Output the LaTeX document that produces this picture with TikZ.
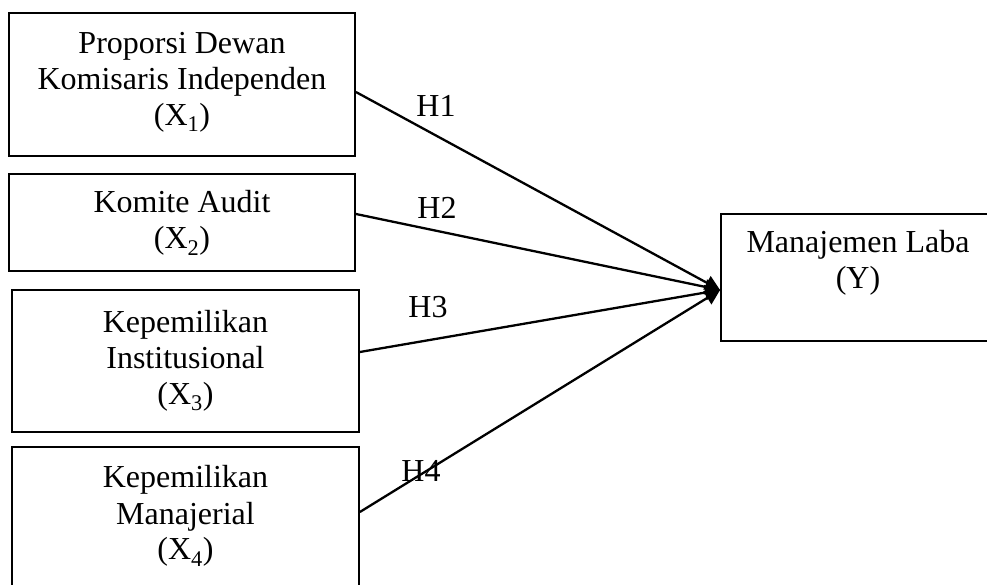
\documentclass[tikz,border=0pt]{standalone}
\usepackage{fontspec}
\setmainfont{Liberation Serif}
\usetikzlibrary{calc,arrows.meta,positioning}

\begin{document}
\begin{tikzpicture}[x=1pt,y=1pt,
  varbox/.style={draw,line width=1.8pt,inner sep=0pt},
  boxtext/.style={align=center,inner sep=0pt,font=\fontsize{32}{36}\selectfont},
  hlabel/.style={inner sep=0pt,font=\fontsize{32}{36}\selectfont},
  hyparrow/.style={line width=2.3pt,-{Triangle[length=15pt,width=15pt]}}]
  \useasboundingbox (0,0) rectangle (987,585);

  % independent variables
  \node[varbox,minimum width=346pt,minimum height=143pt] (x1) at (182,500.5) {};
  \node[varbox,minimum width=346pt,minimum height=97pt] (x2) at (182,362.5) {};
  \node[varbox,minimum width=347pt,minimum height=142pt] (x3) at (185.5,224) {};
  \node[varbox,minimum width=347pt,minimum height=143pt] (x4) at (185.5,66.5) {};
  % dependent variable
  \node[varbox,minimum width=274pt,minimum height=127pt] (y) at (858,307.5) {};

  \node[boxtext,below=20pt of x1.north] (x1txt) {Proporsi Dewan\\Komisaris Independen\\(X\textsubscript{1})};
  \node[boxtext,below=17.5pt of x2.north] (x2txt) {Komite Audit\\(X\textsubscript{2})};
  \node[boxtext,below=21pt of x3.north] (x3txt) {Kepemilikan\\Institusional\\(X\textsubscript{3})};
  \node[boxtext,below=19.5pt of x4.north] (x4txt) {Kepemilikan\\Manajerial\\(X\textsubscript{4})};
  \node[boxtext,below=17.5pt of y.north] (ytxt) {Manajemen Laba\\(Y)};

  \coordinate (tip) at ($(y.west)+(0,-12.5)$);
  \draw[hyparrow] ($(x1.east)+(0,-7.5)$) -- (tip);
  \draw[hyparrow] ($(x2.east)+(0,8.5)$) -- (tip);
  \draw[hyparrow] ($(x3.east)+(0,9)$) -- (tip);
  \draw[hyparrow] ($(x4.east)+(0,6.5)$) -- (tip);

  \node[hlabel] (h1) at (436,479) {H1};
  \node[hlabel] (h2) at (437,377) {H2};
  \node[hlabel] (h3) at (428,278) {H3};
  \node[hlabel] (h4) at (421,114) {H4};
\end{tikzpicture}
\end{document}
